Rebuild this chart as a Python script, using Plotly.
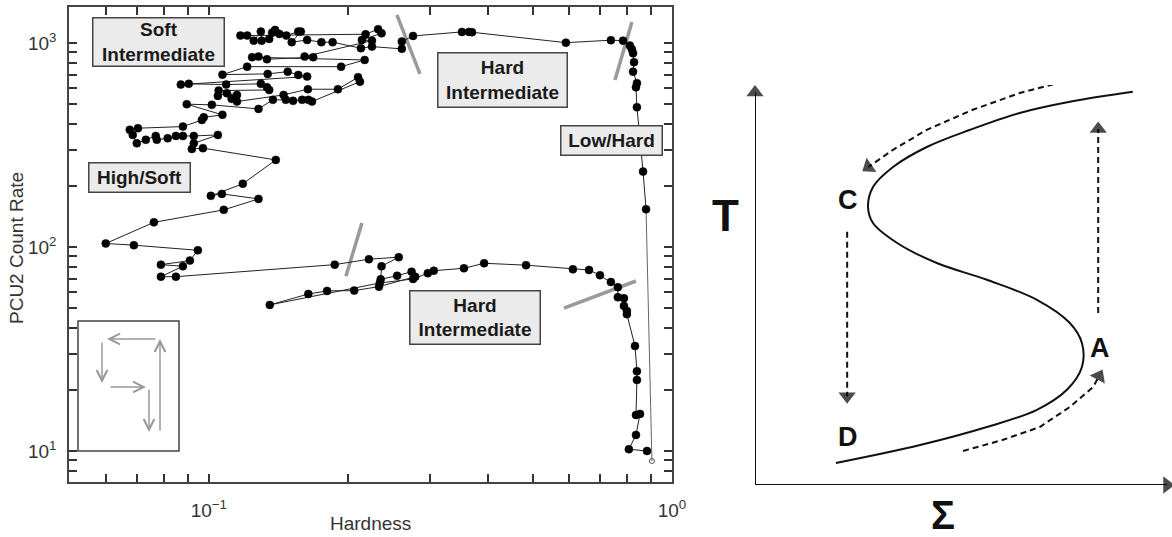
import math
import plotly.graph_objects as go

W, H = 1172, 537
FONT = "Liberation Sans, Arial, Helvetica, sans-serif"

# ---------------- Left panel data (hardness vs PCU2 count rate) ----------------
hardness = [
    0.905, 0.879, 0.866, 0.840, 0.836, 0.840, 0.824, 0.828, 0.824, 0.819, 0.811, 0.784, 0.738, 0.590, 0.370, 0.3645, 0.352, 0.276,
    0.261, 0.261, 0.225, 0.213, 0.185, 0.175, 0.163, 0.151, 0.158, 0.156, 0.147, 0.142, 0.139, 0.137, 0.135, 0.130, 0.1295, 0.125, 0.121, 0.117,
    0.218, 0.232, 0.236, 0.214, 0.225,
    0.161, 0.168, 0.1335, 0.128, 0.124,
    0.217, 0.193, 0.121, 0.107, 0.134, 0.148, 0.156, 0.163,
    0.087, 0.0905, 0.109, 0.1295, 0.1335, 0.135, 0.105, 0.1046, 0.1094, 0.115, 0.112, 0.115, 0.145, 0.1636, 0.190, 0.210, 0.212,
    0.167, 0.164, 0.159, 0.152, 0.1466, 0.1375, 0.128, 0.1015, 0.0896, 0.107, 0.0975, 0.0966, 0.0879,
    0.0703, 0.0675, 0.0685, 0.0699, 0.0731, 0.0768, 0.0772, 0.0815, 0.0849, 0.0879, 0.0928, 0.1046, 0.0928, 0.0919, 0.0971,
    0.1395, 0.1184, 0.101, 0.1067, 0.128, 0.1077, 0.0761, 0.0599, 0.0689, 0.0947, 0.091, 0.0788, 0.0879, 0.0788, 0.0849,
    0.187, 0.2216, 0.257, 0.236, 0.235, 0.255, 0.274, 0.279, 0.233, 0.206, 0.180, 0.164, 0.1354, 0.234, 0.276,
    0.297, 0.306, 0.3555, 0.393, 0.484, 0.611, 0.662, 0.699, 0.738, 0.764, 0.764, 0.7875, 0.7875, 0.799, 0.799, 0.832, 0.840, 0.840, 0.836, 0.853, 0.836, 0.807, 0.883,
]
count_rate = [
    8.93, 153, 234, 484, 606, 635, 723, 804, 890, 931, 970, 1026, 1031, 1003, 1128, 1132, 1132, 1082,
    1015, 935, 959, 942, 1008, 1008, 1034, 1008, 1136, 1136, 1086, 1107, 1158, 1123, 1046, 1026, 1136, 1026, 1086, 1086,
    1103, 1167, 1115, 1034, 1026,
    857, 851, 832, 857, 851,
    825, 765, 765, 699, 705, 723, 697, 684,
    625, 630, 625, 630, 606, 588, 584, 550, 567, 556, 532, 516, 556, 593, 593, 679, 646,
    516, 526, 526, 520, 526, 526, 475, 497, 501, 444, 432, 419, 389,
    382, 375, 354, 322, 335, 350, 335, 341, 350, 350, 350, 354, 322, 302, 305,
    267, 204, 178, 182, 172, 152, 132, 104, 102, 96.3, 85.7, 81.9, 80.4, 71.5, 71.5,
    81.9, 87.1, 89.1, 80.4, 69.4, 72.3, 75.6, 71.5, 63.9, 61.1, 60.9, 58.8, 52.0, 66.6, 69.7,
    74.3, 76.5, 78.6, 83.2, 81.4, 77.7, 77.1, 72.7, 67.3, 63.5, 56.7, 56.1, 51.4, 48.6, 46.8, 32.7, 24.6, 22.3, 15.0, 15.2, 11.98, 10.2, 10.0,
]
assert len(hardness) == len(count_rate)

# state-transition boundary marks (pairs separated by None)
boundary_hardness = [0.2547, 0.2856, None, 0.8194, 0.7531, None, 0.2141, 0.1977, None, 0.836, 0.5844]
boundary_rate = [1372, 705, None, 1267, 658, None, 131, 71.9, None, 68.1, 50.2]

x_major = [0.1, 1.0]
x_major_text = ["10<sup>\u22121</sup>", "10<sup>0</sup>"]
x_minor = [0.06, 0.07, 0.08, 0.09, 0.2, 0.3, 0.4, 0.5, 0.6, 0.7, 0.8, 0.9]
y_major = [10, 100, 1000]
y_major_text = ["10<sup>1</sup>", "10<sup>2</sup>", "10<sup>3</sup>"]
y_minor = [8, 9, 20, 30, 40, 50, 60, 70, 80, 90, 200, 300, 400, 500, 600, 700, 800, 900]

state_labels = ["Soft<br>Intermediate", "Hard<br>Intermediate", "Low/Hard", "High/Soft", "Hard<br>Intermediate"]

# ---------------- Right panel data (S-curve schematic, arbitrary units) ----------------
s_sigma = [1.94, 3.96, 5.56, 6.76, 7.48, 7.84, 7.84, 7.55, 6.76, 5.56, 4.36, 3.41, 2.83, 2.71, 2.83, 3.31, 4.12, 5.16, 6.35, 7.55, 9.06]
s_temp = [0.55, 1.00, 1.45, 1.88, 2.38, 2.95, 3.55, 4.05, 4.63, 5.13, 5.55, 6.05, 6.55, 6.95, 7.45, 7.95, 8.45, 8.88, 9.30, 9.58, 9.83]

arrow_BC_sigma = [7.39, 6.35, 5.22, 4.12, 3.31, 2.72]
arrow_BC_temp = [10.08, 9.80, 9.38, 8.88, 8.38, 7.95]
arrow_DA_sigma = [4.99, 5.95, 6.83, 7.55, 8.11, 8.25]
arrow_DA_temp = [0.85, 1.13, 1.45, 1.95, 2.45, 2.72]
arrow_AB_sigma = [8.23, 8.23]
arrow_AB_temp = [4.30, 8.90]
arrow_CD_sigma = [2.21, 2.21]
arrow_CD_temp = [6.33, 2.22]

point_names = ["B", "C", "A", "D"]
point_sigma = [8.23, 2.23, 8.27, 2.23]
point_temp = [10.15, 7.13, 3.43, 1.20]

fig = go.Figure()

# left panel traces
fig.add_trace(go.Scatter(
    x=boundary_hardness, y=boundary_rate, mode="lines",
    line=dict(color="#9a9a9a", width=3.5), connectgaps=False,
    hoverinfo="skip", showlegend=False, xaxis="x", yaxis="y"))

# first segment (from the open-circle start point) drawn lighter
fig.add_trace(go.Scatter(
    x=hardness[:2], y=count_rate[:2], mode="lines",
    line=dict(color="#666666", width=1), hoverinfo="skip", showlegend=False, xaxis="x", yaxis="y"))
fig.add_trace(go.Scatter(
    x=hardness[1:], y=count_rate[1:], mode="lines+markers",
    line=dict(color="#222222", width=1),
    marker=dict(symbol="circle", size=8, color="#000000", line=dict(width=0.5, color="#000000")),
    showlegend=False, xaxis="x", yaxis="y"))
fig.add_trace(go.Scatter(
    x=hardness[:1], y=count_rate[:1], mode="markers",
    marker=dict(symbol="circle-open", size=5, color="#555555", line=dict(width=1)),
    showlegend=False, xaxis="x", yaxis="y"))

# right panel traces
def arrow_trace(xs, ys, dash, size):
    msize = [0] * (len(xs) - 1) + [size]
    return go.Scatter(
        x=xs, y=ys, mode="lines+markers",
        line=dict(color="#111111", width=2, dash=dash),
        marker=dict(symbol="triangle-up", size=msize, color="#000000", angleref="previous",
                    line=dict(width=0)),
        cliponaxis=False, showlegend=False, hoverinfo="skip", xaxis="x2", yaxis="y2")

fig.add_trace(go.Scatter(
    x=s_sigma, y=s_temp, mode="lines", line=dict(color="#111111", width=2, shape="spline", smoothing=1.0),
    cliponaxis=False, showlegend=False, hoverinfo="skip", xaxis="x2", yaxis="y2"))
fig.add_trace(arrow_trace([0, 0], [0, 9.81], "solid", 15))
fig.add_trace(arrow_trace([0, 9.88], [0, 0], "solid", 15))
fig.add_trace(arrow_trace(arrow_BC_sigma, arrow_BC_temp, "6px,4px", 15))
fig.add_trace(arrow_trace(arrow_DA_sigma, arrow_DA_temp, "6px,4px", 15))
fig.add_trace(arrow_trace(arrow_AB_sigma, arrow_AB_temp, "6px,4px", 15))
fig.add_trace(arrow_trace(arrow_CD_sigma, arrow_CD_temp, "6px,4px", 15))

annotations = []
# state labels (positions in fraction of left plot area)
label_pos = [(0.1476, 0.927, 126, 43), (0.7197, 0.847, 124, 49), (0.899, 0.718, 96, 24),
             (0.1177, 0.642, 96, 24), (0.6725, 0.347, 125, 48)]
for txt, (xd, yd, w, h) in zip(state_labels, label_pos):
    annotations.append(dict(
        text=txt, x=xd, y=yd, xref="x domain", yref="y domain", showarrow=False,
        font=dict(family=FONT, size=19, color="#1a1a1a", weight="bold"),
        bgcolor="#ebebeb", bordercolor="#444444", borderwidth=1.5, borderpad=2,
        width=w, height=h, xanchor="center", yanchor="middle"))

# inset arrows (paper coords, pixel tails)
def P(px, py):
    return px / W, 1 - py / H

for (tx, ty, ax, ay) in [(107, 339, 50, 0), (102, 383, 0, -42), (146, 387, -37, 0),
                         (149, 432, 0, -44), (160, 339, 0, 93)]:
    x, y = P(tx, ty)
    annotations.append(dict(x=x, y=y, xref="paper", yref="paper", text="", showarrow=True,
                            ax=ax, ay=ay, arrowhead=5, arrowsize=1.4, arrowwidth=1.5,
                            arrowcolor="#999999"))

# axis titles
x, y = P(17, 248)
annotations.append(dict(text="PCU2 Count Rate", x=x, y=y, xref="paper", yref="paper",
                        xanchor="center", yanchor="middle",
                        textangle=-90, showarrow=False, font=dict(family=FONT, size=19, color="#333333")))
x, y = P(370, 523)
annotations.append(dict(text="Hardness", x=x, y=y, xref="paper", yref="paper",
                        xanchor="center", yanchor="middle",
                        showarrow=False, font=dict(family=FONT, size=19, color="#333333")))

# right panel labels
for name, sx, st in zip(point_names, point_sigma, point_temp):
    annotations.append(dict(text=name, x=sx, y=st, xref="x2", yref="y2", showarrow=False,
                            xanchor="center", yanchor="middle",
                            font=dict(family=FONT, size=27, color="#111111", weight="bold")))
x, y = P(725, 215)
annotations.append(dict(text="T", x=x, y=y, xref="paper", yref="paper", showarrow=False,
                        xanchor="center", yanchor="middle",
                        font=dict(family=FONT, size=44, color="#111111", weight="bold")))
x, y = P(943, 515)
annotations.append(dict(text="\u03a3", x=x, y=y, xref="paper", yref="paper", showarrow=False,
                        xanchor="center", yanchor="middle",
                        font=dict(family=FONT, size=40, color="#111111", weight="bold")))

shapes = []
x0, y0 = P(78, 451)
x1, y1 = P(179, 321)
shapes.append(dict(type="rect", xref="paper", yref="paper", x0=x0, y0=y0, x1=x1, y1=y1,
                   line=dict(color="#444444", width=1.5), fillcolor="white", layer="above"))

axis_common = dict(
    showline=True, linecolor="#444444", linewidth=1.5, mirror="allticks",
    ticks="inside", ticklen=8, tickwidth=1.5, tickcolor="#333333",
    showgrid=False, zeroline=False, tickmode="array",
    tickfont=dict(family=FONT, size=19, color="#333333"),
)

x_tickvals = x_major + x_minor
x_ticktext = x_major_text + [""] * len(x_minor)
y_tickvals = y_major + y_minor
y_ticktext = y_major_text + [""] * len(y_minor)

fig.update_layout(
    width=W, height=H, autosize=False, margin=dict(l=0, r=0, t=0, b=0, autoexpand=False),
    paper_bgcolor="white", plot_bgcolor="white", showlegend=False,
    xaxis=dict(domain=[69 / W, 672 / W], type="log", range=[math.log10(0.0499), 0.0],
               tickvals=x_tickvals, ticktext=x_ticktext, ticklabelstandoff=10,
               anchor="y", layer="above traces", **axis_common),
    yaxis=dict(domain=[1 - 482 / H, 1 - 7 / H], type="log", range=[0.848, 3.176],
               tickvals=y_tickvals, ticktext=y_ticktext, ticklabelstandoff=7,
               anchor="x", layer="above traces", **axis_common),
    xaxis2=dict(domain=[755 / W, 1.0], range=[0, 10], visible=False, anchor="y2"),
    yaxis2=dict(domain=[1 - 485 / H, 1 - 85 / H], range=[0, 10], visible=False, anchor="x2"),
    annotations=annotations, shapes=shapes,
)

fig.write_html("out.html", config={"responsive": False},
               post_script="document.body.style.margin='0';document.body.style.overflow='hidden';")
